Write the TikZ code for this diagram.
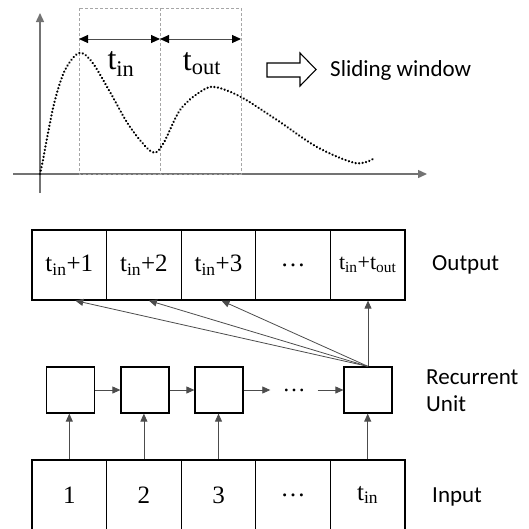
\documentclass[tikz,border=0pt]{standalone}
\usepackage{fontspec}
\newfontfamily\lab{Carlito}
\newfontfamily\ser{Liberation Serif}
\usetikzlibrary{arrows.meta}
\newcommand\tsb[1]{t\textsubscript{#1}}
\begin{document}
\begin{tikzpicture}[x=1pt,y=-1pt,
  cell/.style={draw=black,line width=1.2pt,minimum width=74.6pt,minimum height=70pt,inner sep=0pt,font=\ser\fontsize{25}{28}\selectfont},
  ru/.style={draw=black,line width=1.2pt,minimum width=48pt,minimum height=46pt,inner sep=0pt},
  lbl/.style={font=\lab\fontsize{23}{27}\selectfont,anchor=west,inner sep=0pt,align=left},
  conn/.style={draw=black!70,line width=0.8pt,-{Triangle[length=8pt,width=7pt]}},
  axis/.style={draw=black!55,line width=1.4pt,-{Triangle[length=9pt,width=8pt]}},
  win/.style={draw=black!35,line width=0.7pt,dash pattern=on 3pt off 2pt},
  span/.style={draw=black!70,line width=1pt,{Triangle[length=9pt,width=8pt,color=black]}-{Triangle[length=9pt,width=8pt,color=black]}},
  curve/.style={draw=black,line width=2.5pt,line cap=round,dash pattern=on 0.01pt off 3.5pt},
  big/.style={font=\ser\fontsize{32}{36}\selectfont,inner sep=0pt}]
\useasboundingbox (0,0) rectangle (529,528);
\clip (0,0) rectangle (529,528);
% ---- top plot ----
\coordinate (yb) at (40,193);
\coordinate (yt) at (40,13);
\coordinate (xl) at (13,174);
\coordinate (xr) at (427,174);
\draw[axis] (yb) -- (yt);
\draw[axis] (xl) -- (xr);
\coordinate (w0t) at (79,8);
\coordinate (w1t) at (160,8);
\coordinate (w2t) at (241,8);
\coordinate (w0b) at (79,174);
\coordinate (w1b) at (160,174);
\coordinate (w2b) at (241,174);
\draw[win] (w0t) rectangle (w1b);
\draw[win] (w1t) rectangle (w2b);
\coordinate (a0) at (79,39);
\coordinate (a1) at (160,39);
\coordinate (a2) at (241,39);
\draw[span] (a0) -- (a1);
\draw[span] (a1) -- (a2);
\node[big] (tin) at (121,64) {\tsb{in}};
\node[big] (tout) at (202,64) {\tsb{out}};
\draw[curve] plot[smooth,tension=0.55] coordinates {(40,174) (43,160) (48,133) (55,100) (65,70) (79,53) (92,62) (110,92) (130,127) (152,152) (163,144) (180,110) (200,92) (215,87) (241,97) (277,120) (317,147) (355,163) (373,159)};
\draw[draw=black,line width=1.1pt,fill=white] (267,63) -- (300,63) -- (300,53) -- (316,69.5) -- (300,86) -- (300,77) -- (267,77) -- cycle;
\node[lbl] (sw) at (330,70) {Sliding window};
% ---- output row ----
\node[cell] (o1) at (69.3,265) {\tsb{in}+1};
\node[cell] (o2) at (143.9,265) {\tsb{in}+2};
\node[cell] (o3) at (218.5,265) {\tsb{in}+3};
\node[cell] (o4) at (293.1,265) {\dots};
\node[cell,font=\ser\fontsize{22}{25}\selectfont] (o5) at (367.7,265) {\tsb{in}+\tsb{out}};
\node[lbl] (outl) at (432,265) {Output};
% ---- recurrent row ----
\node[ru] (r1) at (70.5,390) {};
\node[ru] (r2) at (145,390) {};
\node[ru] (r3) at (219,390) {};
\node[inner sep=0pt,minimum width=47pt,font=\ser\fontsize{23}{26}\selectfont] (rd) at (294,390) {\dots};
\node[ru] (r5) at (368,390) {};
\node[lbl] (rul) at (426,391) {Recurrent\\Unit};
\draw[conn] (r1.east) -- (r2.west);
\draw[conn] (r2.east) -- (r3.west);
\draw[conn] (r3.east) -- (rd.west);
\draw[conn] (rd.east) -- (r5.west);
% ---- input row ----
\node[cell] (i1) at (69.3,495) {1};
\node[cell] (i2) at (143.9,495) {2};
\node[cell] (i3) at (218.5,495) {3};
\node[cell] (i4) at (293.1,495) {\dots};
\node[cell] (i5) at (367.7,495) {\tsb{in}};
\node[lbl] (inl) at (432,497) {Input};
\draw[conn] (i1.north) -- (i1.north |- r1.south);
\draw[conn] (i2.north) -- (i2.north |- r2.south);
\draw[conn] (i3.north) -- (i3.north |- r3.south);
\draw[conn] (i5.north) -- (i5.north |- r5.south);
% ---- outputs from last unit ----
\draw[conn] (r5.north) -- ([xshift=6pt]o1.south);
\draw[conn] (r5.north) -- ([xshift=5pt]o2.south);
\draw[conn] (r5.north) -- ([xshift=3pt]o3.south);
\draw[conn] (r5.north) -- (r5.north |- o5.south);
\end{tikzpicture}
\end{document}
